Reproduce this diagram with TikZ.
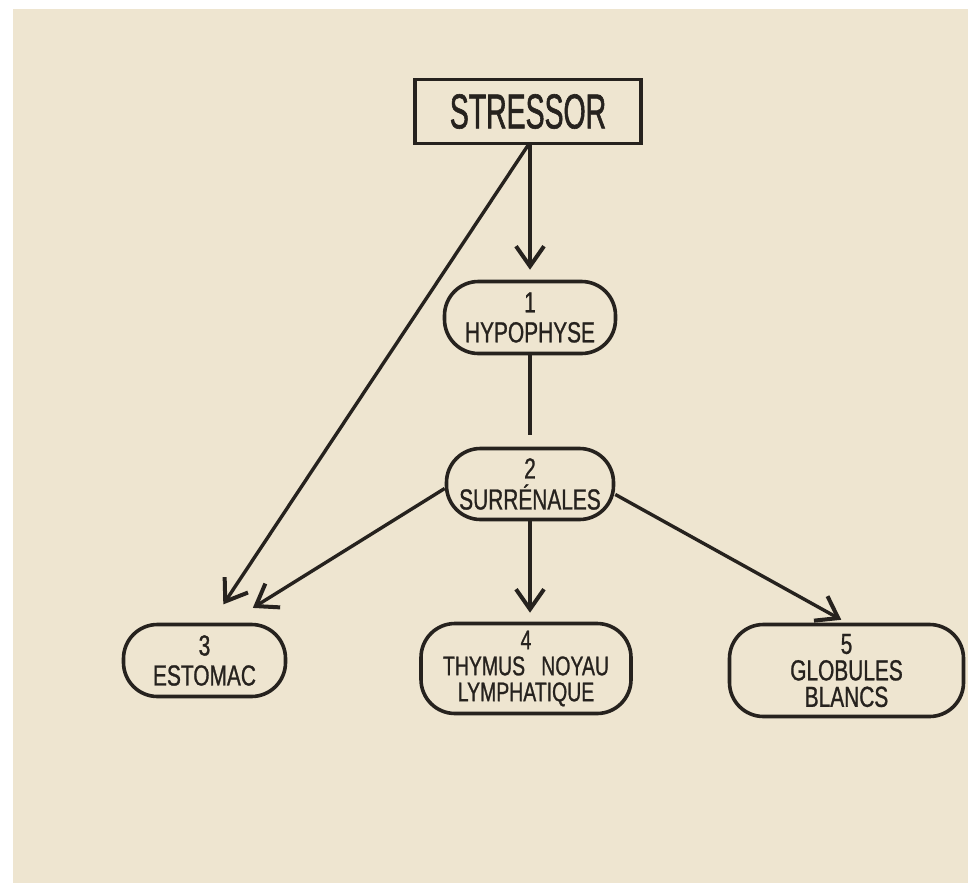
\documentclass[tikz,border=0pt]{standalone}
\usepackage{fontspec}
\setmainfont{Liberation Sans}
\newfontfamily\condfont[FakeStretch=0.72,FakeBold=0.9]{Liberation Sans}
\newfontfamily\titlefont[FakeStretch=0.58,FakeBold=1.2]{Liberation Sans}
\usetikzlibrary{arrows.meta}
\definecolor{paper}{RGB}{238,229,208}
\definecolor{ink}{RGB}{38,34,30}
\tikzset{
  pill/.style={draw=ink, line width=3.6pt, rounded corners=34pt, inner sep=0pt,
    align=center, text=ink},
  boxfont/.style={font=\condfont\fontsize{29}{#1}\selectfont},
  smallfont/.style={font=\condfont\fontsize{27}{#1}\selectfont},
  titlebox/.style={draw=ink, line width=3.6pt, inner sep=0pt, text=ink,
    minimum width=226pt, minimum height=64pt, font=\titlefont\fontsize{49}{49}\selectfont},
  arr/.style={draw=ink, line width=3.4pt, -{Straight Barb[length=20pt,width=28pt,line width=4pt]}},
  link/.style={draw=ink, line width=3.4pt}
}
\begin{document}
\begin{tikzpicture}[x=1pt,y=-1pt]
\useasboundingbox (0,0) rectangle (968,883);
\fill[white] (0,0) rectangle (968,883);
\fill[paper] (13,9) rectangle (968,883);

\node[titlebox] (stressor) at (528,111.5) {STRESSOR};
\node[pill, boxfont=30, minimum width=171pt, minimum height=72pt] (hyp) at (530,317.5) {1\\HYPOPHYSE};
\node[pill, boxfont=31, minimum width=167pt, minimum height=71pt] (sur) at (530,484) {2\\SURRÉNALES};
\node[pill, boxfont=30, minimum width=162pt, minimum height=72pt] (est) at (204.5,660.5) {3\\ESTOMAC};
\node[pill, smallfont=26, minimum width=210pt, minimum height=90pt] (thy) at (526,668.5) {4\\THYMUS\hspace{0.6em}NOYAU\\LYMPHATIQUE};
\node[pill, boxfont=26.5, minimum width=234pt, minimum height=92pt] (glo) at (846.5,670.5) {5\\GLOBULES\\BLANCS};

\draw[arr, shorten >=10pt] (stressor.south -| hyp) -- (hyp.north);
\draw[link, shorten >=12pt] (hyp.south) -- (sur.north);
\draw[arr, shorten >=22pt] (stressor.south) -- (est.80);
\draw[arr, shorten >=28pt] (sur.183) -- (est.57);
\draw[arr, shorten >=9pt] (sur.south) -- (sur.south |- thy.north);
\draw[arr, shorten >=6pt] (sur.-7) -- (glo.north);
\end{tikzpicture}
\end{document}
